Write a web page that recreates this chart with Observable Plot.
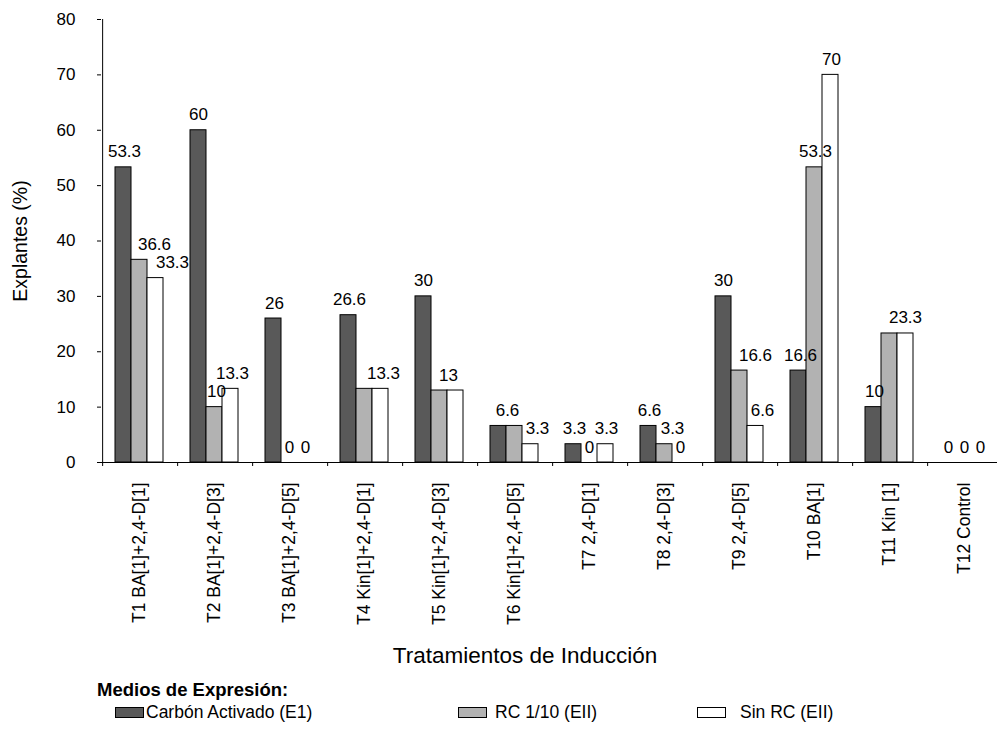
<!DOCTYPE html>
<html><head><meta charset="utf-8">
<script src="https://cdn.jsdelivr.net/npm/d3@7"></script>
<script src="https://cdn.jsdelivr.net/npm/@observablehq/plot@0.6"></script>
<style>
html,body{margin:0;padding:0;background:#fff;overflow:hidden}
#wrap{position:relative;width:997px;height:731px;font-family:"Liberation Sans",Arial,sans-serif;color:#000}
#wrap svg{overflow:hidden;display:block}
.abs{position:absolute;white-space:nowrap;line-height:20px}
.sw{position:absolute;box-sizing:border-box;border:1px solid #000}
</style></head><body><div id="wrap"></div>
<script>
// ---- data ----
const treatments = ["T1 BA[1]+2,4-D[1]", "T2 BA[1]+2,4-D[3]", "T3 BA[1]+2,4-D[5]", "T4 Kin[1]+2,4-D[1]", "T5 Kin[1]+2,4-D[3]", "T6 Kin[1]+2,4-D[5]", "T7 2,4-D[1]", "T8 2,4-D[3]", "T9 2,4-D[5]", "T10 BA[1]", "T11 Kin [1]", "T12 Control"];
const seriesNames = ["Carbón Activado (E1)", "RC 1/10 (EII)", "Sin RC (EII)"];
const carbonActivado = [53.3, 60, 26, 26.6, 30, 6.6, 3.3, 6.6, 30, 16.6, 10, 0];
const rc110 = [36.6, 10, 0, 13.3, 13, 6.6, 0, 3.3, 16.6, 53.3, 23.3, 0];
const sinRC = [33.3, 13.3, 0, 13.3, 13, 3.3, 3.3, 0, 6.6, 70, 23.3, 0];
const yTicks = [0, 10, 20, 30, 40, 50, 60, 70, 80];
const xTitle = "Tratamientos de Inducción";
const yTitle = "Explantes (%)";
const legendTitle = "Medios de Expresión:";

// ---- style ----
const colors = ["#595959", "#b2b2b2", "#ffffff"];
// horizontal nudge (px) of each value label; null = label not shown
const labelDx = [[1,15,17],[0,2,2],[1,0,0],[1,null,3],[0,9,null],[9,null,7],[1,0,1],[1,8,0],[0,16,7],[2,1,1],[1,null,0],[0,0,0]];

const seriesValues = [carbonActivado, rc110, sinRC];
const rows = [];
treatments.forEach((t, i) => seriesNames.forEach((s, j) => {
  rows.push({treatment: t, series: s, value: seriesValues[j][i], dx: labelDx[i][j]});
}));
const nudges = [...new Set(rows.map(d => d.dx).filter(d => d !== null))];

const W = 997, H = 640, ML = 100, MR = -4.6, MT = 19, Y0 = 462, PAD_OUT = 0.75, TICK = 4;
const FONT = "Liberation Sans, Arial, sans-serif";
const YMAX = 80;
// offset from the centre of the first band to the left edge of a facet
const facetW = (W - ML - MR) / treatments.length;
const step = facetW / (seriesNames.length + 2 * PAD_OUT);
const edgeDx = -(0.5 + PAD_OUT) * step;
const tickDepth = -TICK / ((Y0 - MT) / YMAX); // tick length expressed in y units

const chart = Plot.plot({
  width: W, height: H,
  marginLeft: ML, marginRight: MR, marginTop: MT, marginBottom: H - Y0,
  style: {fontFamily: FONT, fontSize: "17px", color: "#000", background: "#fff", overflow: "hidden"},
  fx: {domain: treatments, padding: 0, axis: null},
  x: {domain: seriesNames, paddingInner: 0, paddingOuter: PAD_OUT, axis: null},
  y: {domain: [0, YMAX]},
  color: {domain: seriesNames, range: colors},
  marks: [
    Plot.barY(rows, {fx: "treatment", x: "series", y: "value", fill: "series", stroke: "#000", strokeWidth: 1}),
    Plot.ruleY([0], {stroke: "#000"}),
    // y axis line (first facet only)
    Plot.ruleX([treatments[0]], {fx: d => d, x: () => seriesNames[0], dx: edgeDx, y1: () => 0, y2: () => YMAX, stroke: "#000"}),
    // x boundary ticks
    Plot.ruleX(treatments, {fx: d => d, x: () => seriesNames[0], dx: edgeDx, y1: () => 0, y2: () => tickDepth, stroke: "#000"}),
    Plot.axisY({ticks: yTicks, tickSize: TICK, tickPadding: 22, fontSize: 17, label: null}),
    Plot.axisY({ticks: [], tickSize: 0, fontSize: 19.5, label: yTitle, labelAnchor: "center", labelArrow: "none", labelOffset: 88}),
    Plot.axisFx({anchor: "bottom", tickSize: 0, tickPadding: 20, tickRotate: -90, fontSize: 17.5, label: null}),
    ...nudges.map(k => Plot.text(rows.filter(d => d.dx === k), {
      fx: "treatment", x: "series", y: "value", text: d => String(d.value),
      dx: k, dy: -10, lineAnchor: "bottom", fontSize: 17, fill: "#000"
    }))
  ]
});
const wrap = document.getElementById("wrap");
wrap.appendChild(chart);

// x title and legend (HTML below the svg)
function addText(txt, left, top, style) {
  const d = document.createElement("div");
  d.className = "abs"; d.textContent = txt;
  d.style.left = left + "px"; d.style.top = top + "px";
  Object.assign(d.style, style || {});
  wrap.appendChild(d);
  return d;
}
addText(xTitle, 525, 645, {fontSize: "22.5px", lineHeight: "22px", transform: "translateX(-50%)"});
addText(legendTitle, 97, 680, {fontSize: "18.5px", fontWeight: "bold"});
const legendPos = [[115, 146], [458, 495], [697, 740]];
seriesNames.forEach((s, j) => {
  const sw = document.createElement("div");
  sw.className = "sw";
  sw.style.left = legendPos[j][0] + "px"; sw.style.top = "707px";
  sw.style.width = "29px"; sw.style.height = "11px";
  sw.style.background = colors[j];
  wrap.appendChild(sw);
  addText(s, legendPos[j][1], 702, {fontSize: "17.5px"});
});
</script></body></html>
